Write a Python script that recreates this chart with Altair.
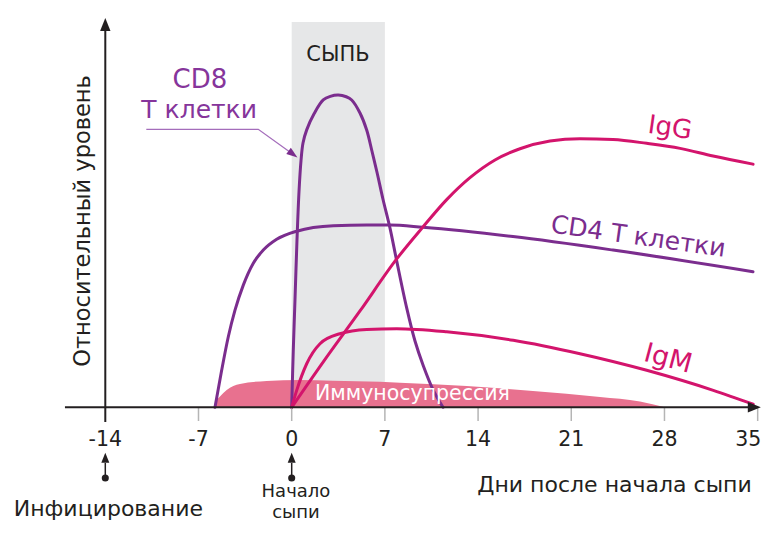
import altair as alt
import pandas as pd

# ---- data (day after rash onset, relative level 0..100) ----
cd8_day = [0, 0.12, 0.248, 0.398, 0.55, 0.70, 0.85, 1.127, 1.70, 2.37, 2.9, 3.5, 4.1, 4.507, 5.130, 5.633, 6.031, 6.407, 6.857, 7.384, 7.887, 8.637, 9.261, 9.884, 10.613, 11.364]
cd8_level = [0, 14.9, 27.9, 43.4, 56.0, 64.0, 68.6, 72.0, 76.3, 79.76, 80.7, 81.05, 80.6, 79.76, 76.38, 71.97, 66.45, 61.0, 54.0, 46.5, 38.0, 25.8, 17.2, 10.8, 4.6, 0]

cd4_day = [-5.761, -5.260, -4.761, -4.258, -3.635, -2.884, -2.133, -1.127, 0.376, 3.128, 5.633, 7.384, 9.862, 16.622, 24.133, 34.648]
cd4_level = [0, 9.6, 18.3, 25.2, 31.7, 37.4, 40.8, 43.6, 45.7, 47.1, 47.3, 47.3, 46.7, 44.3, 40.8, 35.2]

igg_day = [0, 2.373, 5.13, 7.887, 9.787, 11.642, 13.392, 15.270, 17.147, 19.401, 21.654, 24.133, 26.664, 29.172, 31.651, 34.655]
igg_level = [0, 11.8, 25.0, 38.5, 46.5, 53.9, 59.6, 64.2, 67.1, 69.1, 69.7, 69.5, 68.5, 67.2, 65.2, 63.1]

igm_day = [0, 0.376, 1.127, 2.126, 3.628, 5.633, 7.887, 11.642, 16.644, 21.654, 26.664, 31.666, 34.663]
igm_level = [0, 4.4, 11.3, 16.5, 19.1, 20.2, 20.4, 19.6, 17.4, 13.9, 9.6, 4.4, 0.8]

imm_day = [-5.761, -5.686, -5.385, -4.882, -3.885, -1.878, 0.623, 3.102, 6.632, 8.134, 13.144, 18.124, 23.156, 26.16, 28.038]
imm_level = [0, 1.4, 2.8, 4.5, 6.05, 6.83, 7.09, 6.9, 6.64, 6.38, 5.53, 4.23, 2.67, 1.5, 0]

rash_start, rash_end, rash_top = 0, 7, 100

tick_days = [-7, 0, 7, 14, 21, 28, 35]
tick_label_days = [-14, -7, 0, 7, 14, 21, 28, 34.3]
tick_labels = ["-14", "-7", "0", "7", "14", "21", "28", "35"]

event_days = [-14, 0]

PURPLE = "#7B2D8E"
MAGENTA = "#D3146C"
PINK = "#E8718F"
BAND = "#E6E7E8"
DARK = "#231F20"
TICK = "#B5B5B5"
FONT = "DejaVu Sans"

xs = alt.Scale(domain=[-21.308, 35.25], nice=False, zero=False)
ys = alt.Scale(domain=[-30.03, 103.63], nice=False, zero=False)


def X(f="day"):
    return alt.X(f"{f}:Q", scale=xs, axis=None)


def Y(f="level"):
    return alt.Y(f"{f}:Q", scale=ys, axis=None)


def series(days, levels):
    return pd.DataFrame({"day": days, "level": levels, "i": range(len(days))})


band = alt.Chart(pd.DataFrame({"day": [rash_start], "day2": [rash_end], "level": [0], "level2": [rash_top]})).mark_rect(
    color=BAND).encode(x=X(), x2="day2:Q", y=Y(), y2="level2:Q")

imm = alt.Chart(series(imm_day, imm_level)).mark_area(color=PINK, interpolate="monotone").encode(
    x=X(), y=Y(), y2=alt.datum(0))


def curve(days, levels, color, interp="monotone"):
    return alt.Chart(series(days, levels)).mark_line(
        color=color, strokeWidth=3, interpolate=interp, strokeCap="round").encode(
        x=X(), y=Y(), order="i:Q")


cd4 = curve(cd4_day, cd4_level, PURPLE)
cd8 = curve(cd8_day, cd8_level, PURPLE, "catmull-rom")
igg = curve(igg_day, igg_level, MAGENTA)
igm = curve(igm_day, igm_level, MAGENTA)

# axes
yaxis = alt.Chart(pd.DataFrame({"day": [-14], "level": [-3.8], "level2": [98.5]})).mark_rule(
    color=DARK, strokeWidth=2).encode(x=X(), y=Y(), y2="level2:Q")
xaxis = alt.Chart(pd.DataFrame({"day": [-17.03], "day2": [34.75], "level": [0]})).mark_rule(
    color=DARK, strokeWidth=2).encode(x=X(), x2="day2:Q", y=Y())
ticks = alt.Chart(pd.DataFrame({"day": tick_days, "level": [0] * len(tick_days), "level2": [-3.56] * len(tick_days)})).mark_rule(
    color=TICK, strokeWidth=1.5).encode(x=X(), y=Y(), y2="level2:Q")
labels = alt.Chart(pd.DataFrame({"day": tick_label_days, "level": [-8.5] * 8, "t": tick_labels})).mark_text(
    font=FONT, fontSize=20.5, color=DARK, baseline="middle", align="center").encode(x=X(), y=Y(), text="t:N")

TRI = "M0,-1L0.8,1L-0.8,1Z"
yarrow = alt.Chart(pd.DataFrame({"day": [-14], "level": [99.35]})).mark_point(
    shape=TRI, filled=True, color=DARK, size=169, opacity=1, strokeWidth=0).encode(x=X(), y=Y())
xarrow = alt.Chart(pd.DataFrame({"day": [34.75], "level": [0]})).mark_point(
    shape=TRI, filled=True, color=DARK, size=169, opacity=1, strokeWidth=0, angle=90).encode(x=X(), y=Y())

# event markers below the axis
ev_lines = alt.Chart(pd.DataFrame({"day": event_days, "level": [-14.45] * 2, "level2": [-18.35] * 2})).mark_rule(
    color=DARK, strokeWidth=1.5).encode(x=X(), y=Y(), y2="level2:Q")
ev_tri = alt.Chart(pd.DataFrame({"day": event_days, "level": [-13.1] * 2})).mark_point(
    shape=TRI, filled=True, color=DARK, size=100, opacity=1, strokeWidth=0).encode(x=X(), y=Y())
ev_dot = alt.Chart(pd.DataFrame({"day": event_days, "level": [-18.35] * 2})).mark_point(
    shape="circle", filled=True, color=DARK, size=50, opacity=1, strokeWidth=0).encode(x=X(), y=Y())

# CD8 pointer
pointer = alt.Chart(pd.DataFrame({"day": [-10.92, -2.51, 0.2], "level": [72.15, 72.15, 65.4], "i": [0, 1, 2]})).mark_line(
    color="#A46DBB", strokeWidth=1.3).encode(x=X(), y=Y(), order="i:Q")
ptr_head = alt.Chart(pd.DataFrame({"day": [0.1], "level": [65.7]})).mark_point(
    shape="M0,-1L0.7,1L-0.7,1Z", filled=True, color=PURPLE, size=121, opacity=1, strokeWidth=0, angle=126).encode(x=X(), y=Y())


def label(text, day, level, size, color, angle=0, align="center", baseline="alphabetic"):
    return alt.Chart(pd.DataFrame({"day": [day], "level": [level], "t": [text]})).mark_text(
        font=FONT, fontSize=size, color=color, angle=angle, align=align, baseline=baseline).encode(
        x=X(), y=Y(), text="t:N")


texts = [
    label("СЫПЬ", 3.48, 89.9, 21, DARK),
    label("CD8", -6.89, 82.8, 26, "#86359B"),
    label("Т клетки", -6.95, 75.08, 25, "#86359B"),
    label("IgG", 28.41, 72.5, 26, MAGENTA, angle=8, baseline="middle"),
    label("CD4 Т клетки", 26.03, 44.28, 25, PURPLE, angle=8, baseline="middle"),
    label("IgM", 28.26, 12.54, 27, MAGENTA, angle=15, baseline="middle"),
    label("Иммуносупрессия", 9.07, 1.9, 20.5, "white"),
    label("Относительный уровень", -15.68, 48.35, 22.5, DARK, angle=270, baseline="middle"),
    label("Дни после начала сыпи", 34.55, -21.9, 22, DARK, align="right"),
    label("Инфицирование", -13.77, -28.1, 22, DARK),
    label("Начало", 0.32, -23.28, 18, DARK),
    label("сыпи", 0.32, -28.86, 18, DARK),
]

chart = alt.layer(
    band, imm, cd4, cd8, igg, igm,
    ticks, xaxis, yaxis, yarrow, xarrow, labels,
    ev_lines, ev_tri, ev_dot, pointer, ptr_head, *texts
).properties(
    width=753, height=515, padding=0, autosize=alt.AutoSizeParams(type="none")
).configure_view(stroke=None)

chart.save("out.html", embed_options={"renderer": "svg", "actions": False})
